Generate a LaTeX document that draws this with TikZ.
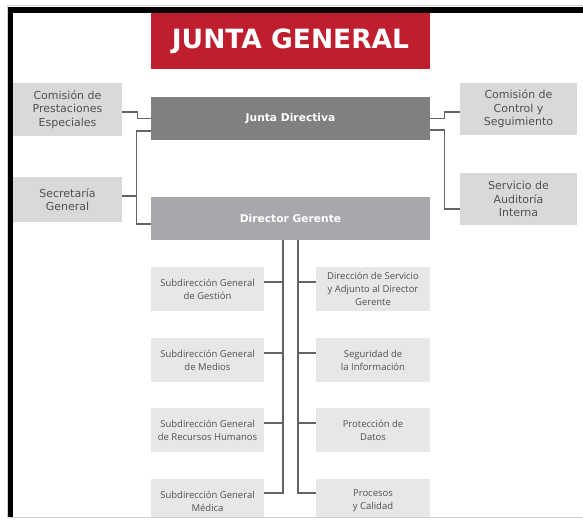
\documentclass[tikz,border=0pt]{standalone}
\usepackage{fontspec}
\setmainfont{DejaVu Sans}
\newfontfamily\subfont{Open Sans}
\usetikzlibrary{calc}
\definecolor{orgred}{RGB}{190,30,45}
\definecolor{orgdark}{RGB}{128,128,128}
\definecolor{orgmid}{RGB}{167,168,171}
\definecolor{orgside}{RGB}{217,217,218}
\definecolor{orglight}{RGB}{231,231,232}
\definecolor{orgtext}{RGB}{80,81,83}
\definecolor{orgline}{RGB}{100,100,102}
\tikzset{
  head/.style ={fill=orgred, text=white, font=\bfseries\fontsize{26.5}{30}\selectfont, minimum width=279pt, minimum height=56pt, inner sep=0pt},
  main/.style ={text=white, font=\bfseries\fontsize{10.7}{12}\selectfont, minimum width=279pt, minimum height=43pt, inner sep=0pt},
  side/.style ={fill=orgside, text=orgtext, font=\fontsize{11}{13.5}\selectfont, align=center, minimum width=109pt, minimum height=53pt, inner sep=0pt},
  sub/.style  ={fill=orglight, text=orgtext, font=\subfont\fontsize{9.5}{13}\selectfont, align=center, minimum width=114pt, minimum height=44pt, inner sep=0pt},
  conn/.style ={draw=orgline, line width=1.1pt},
}
\begin{document}
\begin{tikzpicture}[x=1pt,y=-1pt]
  \useasboundingbox (0,0) rectangle (583,519);
  \fill[white] (0,0) rectangle (583,519);
  \draw[black!18,line width=1pt] (583,6) -- (7.5,6) -- (7.5,517) -- (583,517);
  \fill[black] (8,7) rectangle (583,13);
  \fill[black] (8,7) rectangle (13,516.5);
  \begin{scope}
  \clip (13,13) rectangle (583,516.5);
  \node[head] (jg) at (290.5,41) {JUNTA GENERAL};
  \node[main,fill=orgdark] (jd) at (290.5,118.5) {Junta Directiva};
  \node[main,fill=orgmid] (dg) at (290.5,218.5) {Director Gerente};
  \node[side] (cpe) at (67.5,109.5) {Comisión de\\Prestaciones\\Especiales};
  \node[side,minimum height=45pt] (sg) at (67.5,199.5) {Secretaría\\General};
  \node[side,minimum width=117pt,minimum height=52pt] (ccs) at (518.5,109) {Comisión de\\Control y\\Seguimiento};
  \node[side,minimum width=117pt,minimum height=52pt] (sai) at (518.5,199) {Servicio de\\Auditoría\\Interna};
  \node[sub,minimum width=113pt] (sgges) at (207.5,289) {Subdirección General\\de Gestión};
  \node[sub,minimum width=113pt] (sgmed) at (207.5,360) {Subdirección General\\de Medios};
  \node[sub,minimum width=113pt] (sgrh) at (207.5,430) {Subdirección General\\de Recursos Humanos};
  \node[sub,minimum width=113pt] (sgmd) at (207.5,501) {Subdirección General\\Médica};
  \node[sub] (dsa) at (373,289) {Dirección de Servicio\\y Adjunto al Director\\Gerente};
  \node[sub] (sdi) at (373,360) {Seguridad de\\la Información};
  \node[sub] (pdd) at (373,430) {Protección de\\Datos};
  \node[sub] (pyc) at (373,501) {Procesos\\y Calidad};
  \draw[conn] ([yshift=-2.5pt]cpe.east) -- ++(15,0) |- (jd.west);
  \draw[conn] ([yshift=-12.5pt]jd.west) -- ++(-14,0) |- ([yshift=-5.5pt]dg.west);
  \draw[conn] ([yshift=3.5pt]sg.east) -- ++(15,0);
  \draw[conn] (jd.east) -- ++(14,0) |- ([yshift=-3pt]ccs.west);
  \draw[conn] ([yshift=-11.5pt]jd.east) -- ++(14,0) |- ([yshift=-10pt]sai.west);
  \draw[conn] ([xshift=-7.5pt]dg.south) |- ([yshift=8pt]sgmd.east);
  \draw[conn] ([xshift=7.5pt]dg.south) |- ([yshift=8pt]pyc.west);
  \foreach \n in {sgges,sgmed,sgrh}
    \draw[conn] ([yshift=7pt]\n.east) -- ++(19,0);
  \foreach \n in {dsa,sdi,pdd}
    \draw[conn] ([yshift=7pt]\n.west) -- ++(-18,0);
  \end{scope}
\end{tikzpicture}
\end{document}
